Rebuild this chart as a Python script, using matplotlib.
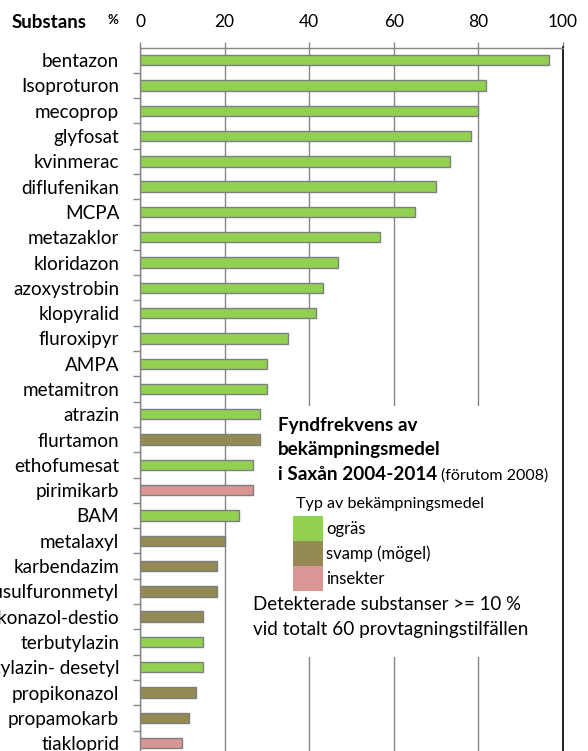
import matplotlib
matplotlib.use("Agg")
import matplotlib.pyplot as plt
from matplotlib.patches import Rectangle

plt.rcParams['font.family'] = ['Lato', 'DejaVu Sans']

substances = ["bentazon", "Isoproturon", "mecoprop", "glyfosat", "kvinmerac",
              "diflufenikan", "MCPA", "metazaklor", "kloridazon", "azoxystrobin",
              "klopyralid", "fluroxipyr", "AMPA", "metamitron", "atrazin",
              "flurtamon", "ethofumesat", "pirimikarb", "BAM", "metalaxyl",
              "karbendazim", "triflusulfuronmetyl", "protiokonazol-destio",
              "terbutylazin", "terbutylazin- desetyl", "propikonazol",
              "propamokarb", "tiakloprid"]
percent = [96.7, 81.7, 80.0, 78.3, 73.3, 70.0, 65.0, 56.7, 46.7, 43.3,
           41.7, 35.0, 30.0, 30.0, 28.3, 28.3, 26.7, 26.7, 23.3, 20.0,
           18.3, 18.3, 15.0, 15.0, 15.0, 13.3, 11.7, 10.0]
types = ["ogräs"] * 15 + ["svamp (mögel)", "ogräs", "insekter", "ogräs",
         "svamp (mögel)", "svamp (mögel)", "svamp (mögel)", "svamp (mögel)",
         "ogräs", "ogräs", "svamp (mögel)", "svamp (mögel)", "insekter"]
type_names = ["ogräs", "svamp (mögel)", "insekter"]
type_colors = {"ogräs": "#92D050", "svamp (mögel)": "#948A54", "insekter": "#DA9694"}
x_ticks = [0, 20, 40, 60, 80, 100]

W, H = 588, 751
fig = plt.figure(figsize=(W / 100, H / 100), dpi=100)
ax_l, ax_r, ax_t, ax_b = 140, 563, 47.5, 751
ax = fig.add_axes([ax_l / W, 1 - ax_b / H, (ax_r - ax_l) / W, (ax_b - ax_t) / H])

ypos = list(range(len(substances)))
colors = [type_colors[t] for t in types]
ax.barh(ypos, percent, height=0.41, color=colors, edgecolor="#7F7F7F",
        linewidth=1.0, zorder=3)

ax.set_xlim(0, 100)
ax.set_ylim(27.31, -0.5)
ax.set_axisbelow(True)
ax.xaxis.tick_top()
ax.set_xticks(x_ticks)
ax.set_xticklabels([str(v) for v in x_ticks], fontsize=12.5)
ax.tick_params(axis='x', direction='out', length=4.3, width=1, color="#868686", pad=8)
ax.grid(axis='x', color="#868686", linewidth=1.0, zorder=0)

ax.set_yticks(ypos)
ax.set_yticklabels(substances, fontsize=13.6)
ax.tick_params(axis='y', which='major', length=0, pad=15)
ax.set_yticks([i + 0.5 for i in range(len(substances) - 1)], minor=True)
ax.tick_params(axis='y', which='minor', direction='out', length=5, width=1, color="#868686")

for s in ['top', 'left']:
    ax.spines[s].set_color("#868686")
    ax.spines[s].set_linewidth(1.0)
ax.spines['bottom'].set_visible(False)
ax.spines['right'].set_color("#000000")
ax.spines['right'].set_linewidth(1.2)

# white text box hiding gridlines
ax.add_patch(Rectangle((28.9, 13.68), 70.8, 9.9, facecolor="white", edgecolor="none", zorder=1))

fig.text(12 / W, 1 - 22 / H, "Substans", fontsize=13.5, fontweight='bold', va='center', ha='left')
fig.text(108 / W, 1 - 20 / H, "%", fontsize=9.5, fontweight='bold', va='center', ha='left')

fig.text(278 / W, 1 - 425 / H, "Fyndfrekvens av", fontsize=13.6, fontweight='bold', va='center')
fig.text(278 / W, 1 - 450 / H, "bekämpningsmedel", fontsize=13.6, fontweight='bold', va='center')
t3 = fig.text(278 / W, 1 - 475 / H, "i Saxån 2004-2014", fontsize=13.6, fontweight='bold', va='center')
fig.canvas.draw()
bb = t3.get_window_extent(renderer=fig.canvas.get_renderer())
fig.text((bb.x1 + 4) / W, 1 - 476 / H, "(förutom 2008)", fontsize=11.5, va='center')

fig.text(296 / W, 1 - 504 / H, "Typ av bekämpningsmedel", fontsize=11.6, va='center')
for i, name in enumerate(type_names):
    y0 = 516 + 25 * i
    fig.patches.append(Rectangle((293 / W, 1 - (y0 + 25) / H), 30 / W, 25 / H,
                                 facecolor=type_colors[name], edgecolor='none',
                                 transform=fig.transFigure, figure=fig))
    fig.text(326 / W, 1 - (y0 + 13) / H, name, fontsize=12, va='center')

fig.text(253 / W, 1 - 605 / H, "Detekterade substanser >= 10 %", fontsize=13.4, va='center')
fig.text(253 / W, 1 - 630 / H, "vid totalt 60 provtagningstilfällen", fontsize=13.6, va='center')

fig.savefig("out.png", dpi=100)
